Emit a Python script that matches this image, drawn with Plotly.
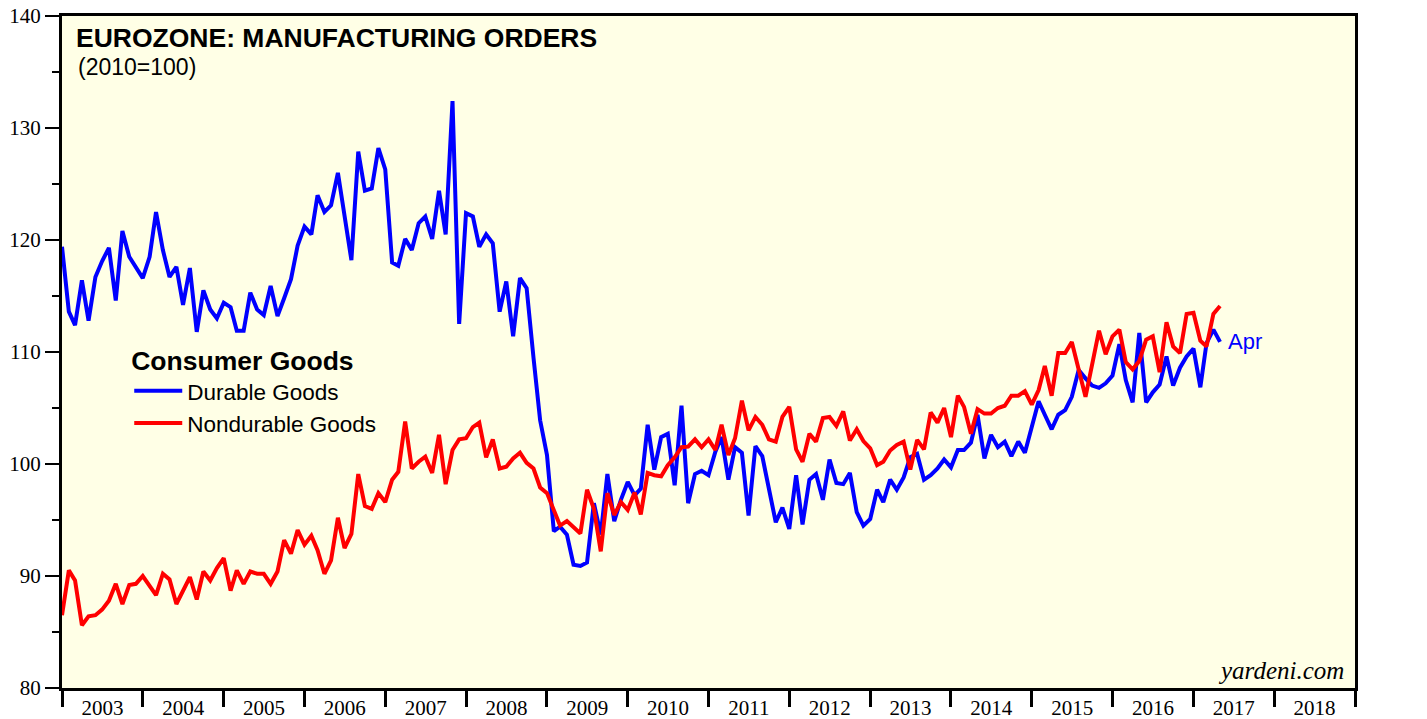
import pandas as pd
import plotly.graph_objects as go

# Monthly observations, Dec 2002 .. Apr 2017 (plotted at month end)
months = pd.period_range("2002-12", "2017-04", freq="M")
dates = months.to_timestamp(how="end")

durable = [
    119.4, 113.6, 112.4, 116.4, 112.8, 116.7, 118.1, 119.3, 114.6, 120.8, 118.5, 117.6,
    116.6, 118.5, 122.5, 119.1, 116.7, 117.6, 114.2, 117.5, 111.8, 115.5, 113.8, 113.0,
    114.4, 114.0, 111.9, 111.9, 115.3, 113.8, 113.3, 115.9, 113.2, 114.8, 116.5, 119.5,
    121.2, 120.5, 124.0, 122.5, 123.1, 126.0, 122.1, 118.2, 127.9, 124.4, 124.6, 128.2,
    126.3, 118.0, 117.7, 120.1, 119.1, 121.5, 122.1, 120.1, 124.4, 120.5, 132.4, 112.5,
    122.4, 122.1, 119.4, 120.5, 119.7, 113.6, 116.3, 111.4, 116.6, 115.7, 109.5, 103.9,
    100.8, 94.0, 94.4, 93.7, 91.0, 90.9, 91.2, 96.5, 93.7, 99.1, 94.9, 96.8,
    98.4, 97.2, 97.8, 103.5, 99.5, 102.4, 102.7, 98.1, 105.2, 96.5, 99.1, 99.4,
    99.0, 101.1, 102.4, 98.6, 101.5, 101.0, 95.4, 101.6, 100.7, 97.8, 94.8, 96.1,
    94.2, 99.0, 94.6, 98.6, 99.1, 96.8, 100.4, 98.3, 98.2, 99.2, 95.7, 94.5,
    95.1, 97.7, 96.6, 98.6, 97.7, 98.8, 100.6, 100.9, 98.6, 99.0, 99.6, 100.4,
    99.7, 101.25, 101.25, 101.9, 104.4, 100.5, 102.6, 101.5, 102.0, 100.7, 102.0, 101.0,
    103.2, 105.6, 104.4, 103.1, 104.4, 104.8, 106.0, 108.4, 107.65, 107.0, 106.8, 107.2,
    107.9, 110.7, 107.5, 105.5, 111.7, 105.5, 106.4, 107.1, 109.6, 107.0, 108.6, 109.6,
    110.3, 106.85, 110.8, 112.0, 110.9,
]

nondurable = [
    86.5, 90.5, 89.6, 85.6, 86.4, 86.5, 87.0, 87.8, 89.3, 87.5, 89.2, 89.3,
    90.0, 89.1, 88.3, 90.2, 89.7, 87.5, 88.7, 89.9, 87.9, 90.4, 89.6, 90.7,
    91.6, 88.7, 90.5, 89.3, 90.4, 90.2, 90.2, 89.3, 90.4, 93.2, 92.0, 94.1,
    92.8, 93.6, 92.3, 90.2, 91.4, 95.2, 92.5, 93.75, 99.1, 96.25, 96.0, 97.4,
    96.6, 98.6, 99.3, 103.8, 99.6, 100.2, 100.65, 99.2, 102.6, 98.2, 101.25, 102.2,
    102.3, 103.3, 103.7, 100.6, 102.2, 99.6, 99.75, 100.5, 101.0, 100.1, 99.6, 97.9,
    97.4, 95.9, 94.5, 94.9, 94.4, 93.8, 97.7, 96.0, 92.2, 97.4, 95.45, 96.6,
    95.9, 97.45, 95.5, 99.2, 99.0, 98.9, 99.9, 100.6, 101.5, 101.55, 102.2, 101.5,
    102.2, 101.25, 103.5, 100.8, 102.3, 105.65, 103.0, 104.2, 103.5, 102.2, 102.0, 104.2,
    105.1, 101.3, 100.2, 102.7, 102.0, 104.1, 104.2, 103.4, 104.7, 102.1, 103.1, 102.05,
    101.4, 99.9, 100.2, 101.2, 101.7, 102.0, 99.5, 102.15, 101.3, 104.6, 103.7, 105.0,
    102.4, 106.1, 105.1, 102.7, 104.9, 104.5, 104.5, 105.0, 105.2, 106.1, 106.1, 106.5,
    105.3, 106.6, 108.75, 106.1, 109.9, 109.9, 110.9, 108.5, 106.0, 108.9, 111.9, 109.8,
    111.4, 112.0, 109.1, 108.45, 109.2, 111.1, 111.4, 108.2, 112.65, 110.5, 109.9, 113.4,
    113.5, 111.0, 110.5, 113.4, 114.1,
]

y_ticks = [80, 90, 100, 110, 120, 130, 140]

SANS = "Liberation Sans, Arial, sans-serif"
SERIF = "Liberation Serif, Times New Roman, serif"

fig = go.Figure()
fig.add_trace(go.Scatter(x=dates, y=durable, mode="lines", name="Durable Goods",
                         line=dict(color="#0000FF", width=4)))
fig.add_trace(go.Scatter(x=dates, y=nondurable, mode="lines", name="Nondurable Goods",
                         line=dict(color="#FF0000", width=4)))

yaxis_common = dict(
    range=[80, 140], tickvals=y_ticks, automargin=False,
    ticks="outside", ticklen=14, tickwidth=1.5, tickcolor="black",
    minor=dict(dtick=5, ticks="outside", ticklen=7, tickwidth=1.5, tickcolor="black"),
    showgrid=False, zeroline=False,
    tickfont=dict(family=SERIF, size=21, color="black"),
)

fig.update_layout(
    width=1427, height=719,
    margin=dict(l=62, r=72, t=16, b=31, autoexpand=False),
    paper_bgcolor="white",
    plot_bgcolor="#FFFFE6",
    showlegend=True,
    legend=dict(
        x=0.052, y=0.525, xanchor="left", yanchor="top",
        bgcolor="rgba(0,0,0,0)",
        title=dict(text="<b>Consumer Goods</b>", font=dict(family=SANS, size=26.5, color="black")),
        font=dict(family=SANS, size=22.5, color="black"),
        itemwidth=48,
        tracegroupgap=0,
    ),
    xaxis=dict(
        type="date",
        range=["2003-01-01", "2019-01-01"], automargin=False,
        tick0="2003-01-01", dtick="M12",
        ticklabelmode="period", tickformat="%Y",
        ticks="outside", ticklen=16, tickwidth=2.5, tickcolor="black",
        ticklabelstandoff=-17,
        showline=True, linewidth=3, linecolor="black", mirror=True,
        showgrid=False, zeroline=False,
        tickfont=dict(family=SERIF, size=21, color="black"),
    ),
    yaxis=dict(showline=True, linewidth=3, linecolor="black", mirror=True, **yaxis_common),
    yaxis2=dict(overlaying="y", side="right", showline=False, **yaxis_common),
)

fig.add_annotation(xref="paper", yref="paper", x=0.009, y=0.993, xanchor="left", yanchor="top",
                   text="<b>EUROZONE: MANUFACTURING ORDERS</b>", showarrow=False,
                   font=dict(family=SANS, size=26.5, color="black"))
fig.add_annotation(xref="paper", yref="paper", x=0.011, y=0.947, xanchor="left", yanchor="top",
                   text="(2010=100)", showarrow=False,
                   font=dict(family=SANS, size=23, color="black"))
fig.add_annotation(x=dates[-1], y=durable[-1], xanchor="left", yanchor="middle",
                   xshift=6, yshift=0, text="Apr", showarrow=False,
                   font=dict(family=SANS, size=22, color="#0000FF"))
fig.add_annotation(xref="paper", yref="paper", x=0.993, y=0.003, xanchor="right", yanchor="bottom",
                   text="<i>yardeni.com</i>", showarrow=False,
                   font=dict(family=SERIF, size=25, color="black"))

fig.write_html("out.html", config={"displayModeBar": False},
               post_script="document.body.style.margin='0';")
